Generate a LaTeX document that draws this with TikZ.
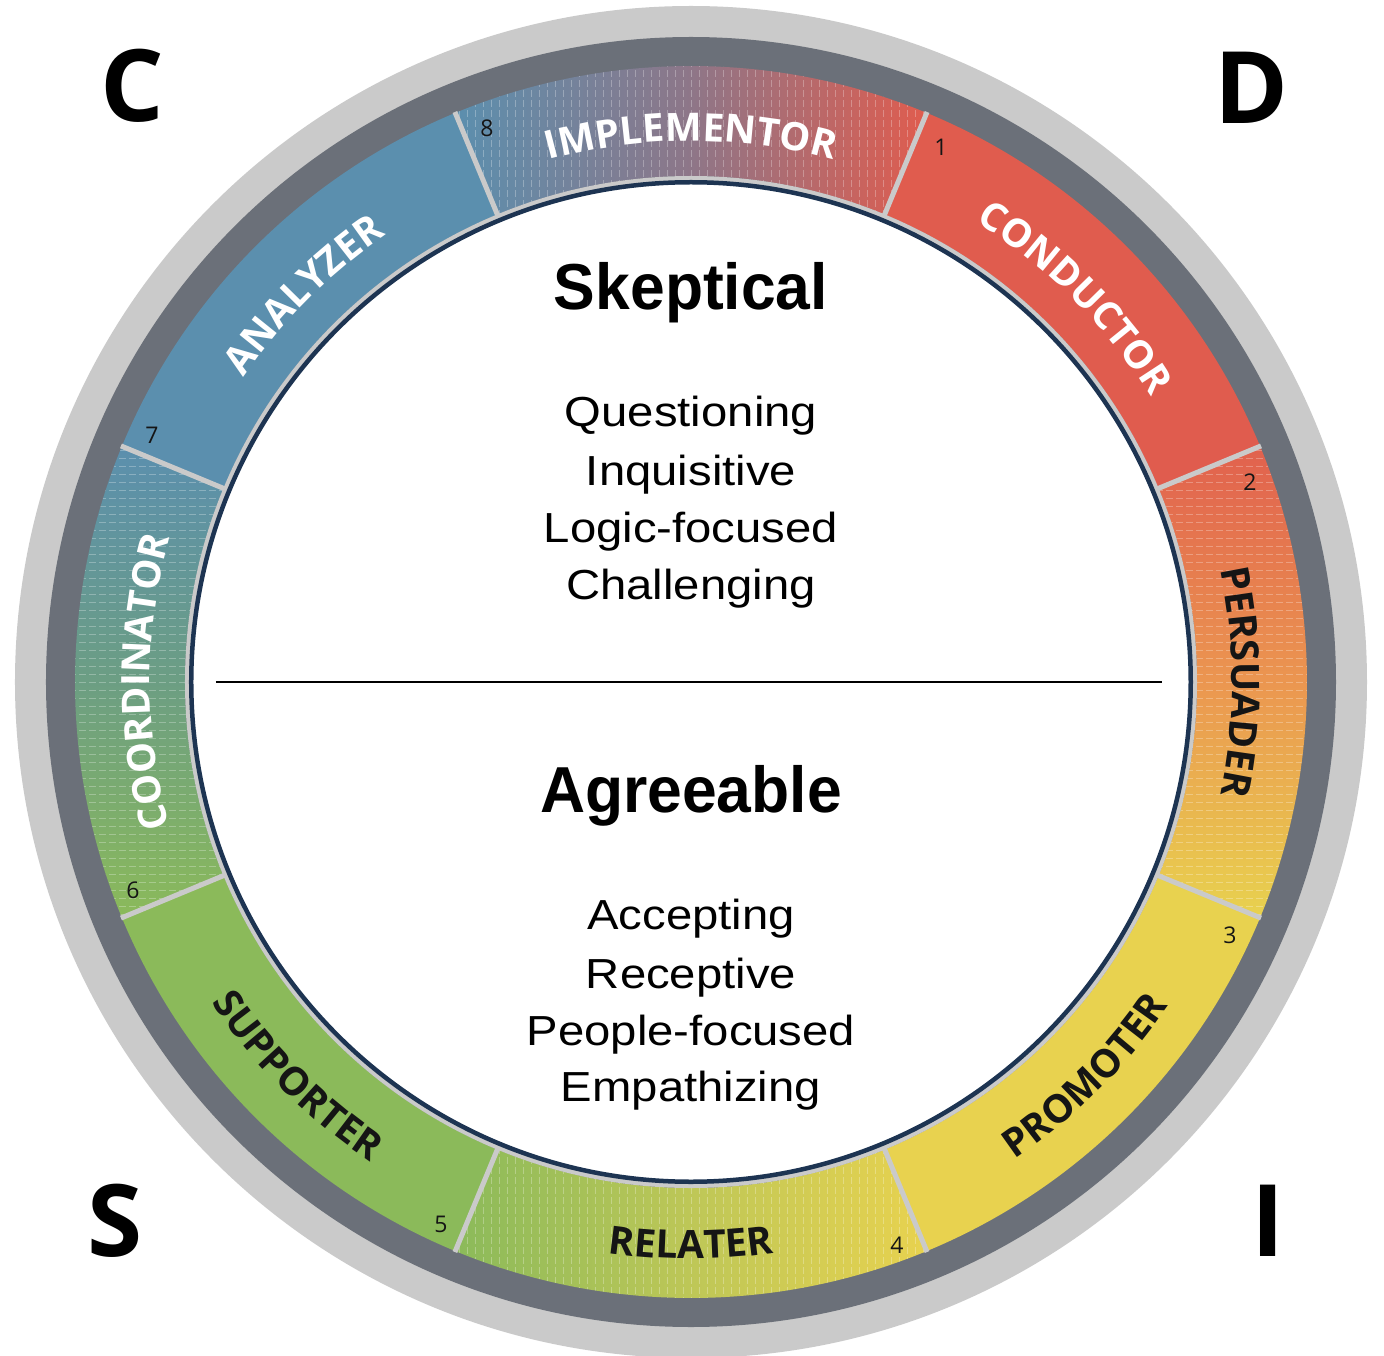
\documentclass[tikz,border=0pt]{standalone}
\usepackage{fontspec}
\setmainfont{Liberation Sans}
\newfontfamily\opensans{Open Sans}
\newfontfamily\traitfont[FakeStretch=1.125]{Liberation Sans}
\newfontfamily\headfont[FakeStretch=0.96]{Liberation Sans}
\usetikzlibrary{decorations.text}

\newcommand\ringtype{\opensans\bfseries\fontsize{39}{39}\selectfont}
\newcommand\numtype{\opensans\fontsize{23}{23}\selectfont}
\newcommand\cornertype{\opensans\bfseries\fontsize{100}{100}\selectfont}
\newcommand\headtype{\headfont\bfseries\fontsize{65}{65}\selectfont}
\newcommand\traittype{\traitfont\fontsize{42}{42}\selectfont}

\definecolor{ringlight}{HTML}{CACACA}
\definecolor{ringdark}{HTML}{6B7079}
\definecolor{navy}{HTML}{1D3452}
\definecolor{cred}{HTML}{E05C4E}
\definecolor{cblue}{HTML}{5B8FAE}
\definecolor{cgreen}{HTML}{8BBA5A}
\definecolor{cyellow}{HTML}{E8D24F}
\definecolor{mauve}{HTML}{8E7688}
\definecolor{corange}{HTML}{EB9650}
\definecolor{cteal}{HTML}{6C9E83}
\definecolor{clime}{HTML}{BEC757}
\definecolor{inkdark}{HTML}{151515}

\begin{document}
\begin{tikzpicture}[x=1pt,y=1pt,
  sector/.style 2 args={insert path={(#1:616) arc[start angle=#1, end angle=#2, radius=616]
      -- (#2:506) arc[start angle=#2, end angle=#1, radius=506] -- cycle}},
  stripe/.style={white, opacity=0.28, line width=0.8pt, dash pattern=on 7pt off 3pt},
  divider/.style={ringlight, line width=5pt},
  ringlabel/.style 2 args={decorate, decoration={text along path, text align=center,
      text color=#1, text={|\ringtype|#2}}},
  segnum/.style={font=\numtype, text=inkdark, inner sep=0pt},
  corner/.style={font=\cornertype, text=black, inner sep=0pt},
  heading/.style={font=\headtype, text=black, inner sep=0pt, anchor=base},
  trait/.style={font=\traittype, text=black, inner sep=0pt, anchor=base}]

\useasboundingbox (-691,-673) rectangle (693,682);
\fill[white] (-691,-673) rectangle (693,682);

% outer rings
\fill[ringlight] (0,0) circle (676);
\fill[ringdark] (0,0) circle (645);

% solid style segments
\fill[cred, sector={22.5}{67.5}];
\fill[cblue, sector={112.5}{157.5}];
\fill[cgreen, sector={202.5}{247.5}];
\fill[cyellow, sector={292.5}{337.5}];

% blended segments between the styles
\shade[sector={67.5}{112.5}, left color=cblue, right color=cred, middle color=mauve];
\shade[sector={-22.5}{22.5}, top color=cred!92!corange, bottom color=cyellow, middle color=corange];
\shade[sector={157.5}{202.5}, top color=cblue, bottom color=cgreen, middle color=cteal];
\shade[sector={247.5}{292.5}, left color=cgreen, right color=cyellow, middle color=clime];

% fine banding lines in the blended segments
\begin{scope}
  \clip[sector={67.5}{112.5}];
  \foreach \k in {-30,...,30} \draw[stripe] (\k*8,455) -- (\k*8,625);
\end{scope}
\begin{scope}
  \clip[sector={247.5}{292.5}];
  \foreach \k in {-30,...,30} \draw[stripe] (\k*8,-455) -- (\k*8,-625);
\end{scope}
\begin{scope}
  \clip[sector={-22.5}{22.5}];
  \foreach \k in {-30,...,30} \draw[stripe] (455,\k*8) -- (625,\k*8);
\end{scope}
\begin{scope}
  \clip[sector={157.5}{202.5}];
  \foreach \k in {-30,...,30} \draw[stripe] (-455,\k*8) -- (-625,\k*8);
\end{scope}

% segment dividers
\foreach \a in {22.5,67.5,...,337.5} \draw[divider] (\a:500) -- (\a:617);

% inner rim and centre disc
\fill[ringlight] (0,0) circle (506);
\draw[navy, line width=4.5pt, fill=white] (0,0) circle (499.75);

% style names along the ring
\path[ringlabel={white}{IMPLEMENTOR}] (130:541) arc[start angle=130, end angle=50, radius=541];
\path[ringlabel={white}{CONDUCTOR}] (85:541) arc[start angle=85, end angle=5, radius=541];
\path[ringlabel={inkdark}{PERSUADER}] (40:541) arc[start angle=40, end angle=-40, radius=541];
\path[ringlabel={inkdark}{PROMOTER}] (-85:577) arc[start angle=-85, end angle=-5, radius=577];
\path[ringlabel={inkdark}{RELATER}] (-130:577) arc[start angle=-130, end angle=-50, radius=577];
\path[ringlabel={inkdark}{SUPPORTER}] (-175:577) arc[start angle=-175, end angle=-95, radius=577];
\path[ringlabel={white}{COORDINATOR}] (220:541) arc[start angle=220, end angle=140, radius=541];
\path[ringlabel={white}{ANALYZER}] (175:541) arc[start angle=175, end angle=95, radius=541];

% segment numbers
\node[segnum] (n1) at (250,535) {1};
\node[segnum] (n2) at (559,200) {2};
\node[segnum] (n3) at (539,-253) {3};
\node[segnum] (n4) at (206,-563) {4};
\node[segnum] (n5) at (-250,-542) {5};
\node[segnum] (n6) at (-558,-208) {6};
\node[segnum] (n7) at (-539,247) {7};
\node[segnum] (n8) at (-204,554) {8};

% quadrant letters
\node[corner] (qc) at (-559,596) {C};
\node[corner] (qd) at (561,594) {D};
\node[corner] (qs) at (-576,-539) {S};
\node[corner] (qi) at (577,-539) {I};

% centre texts
\node[heading] (skeptical) at (0,372) {Skeptical};
\node[trait] (t1) at (0,255.3) {Questioning};
\node[trait] (t2) at (0,196.3) {Inquisitive};
\node[trait] (t3) at (0,139.3) {Logic-focused};
\node[trait] (t4) at (0,83) {Challenging};

\coordinate (splitL) at (-475,0);
\coordinate (splitR) at (471,0);
\draw[line width=1.8pt] (splitL) -- (splitR);

\node[heading] (agreeable) at (0,-130) {Agreeable};
\node[trait] (b1) at (0,-247.3) {Accepting};
\node[trait] (b2) at (0,-306.3) {Receptive};
\node[trait] (b3) at (0,-363) {People-focused};
\node[trait] (b4) at (0,-419.7) {Empathizing};
\end{tikzpicture}
\end{document}
